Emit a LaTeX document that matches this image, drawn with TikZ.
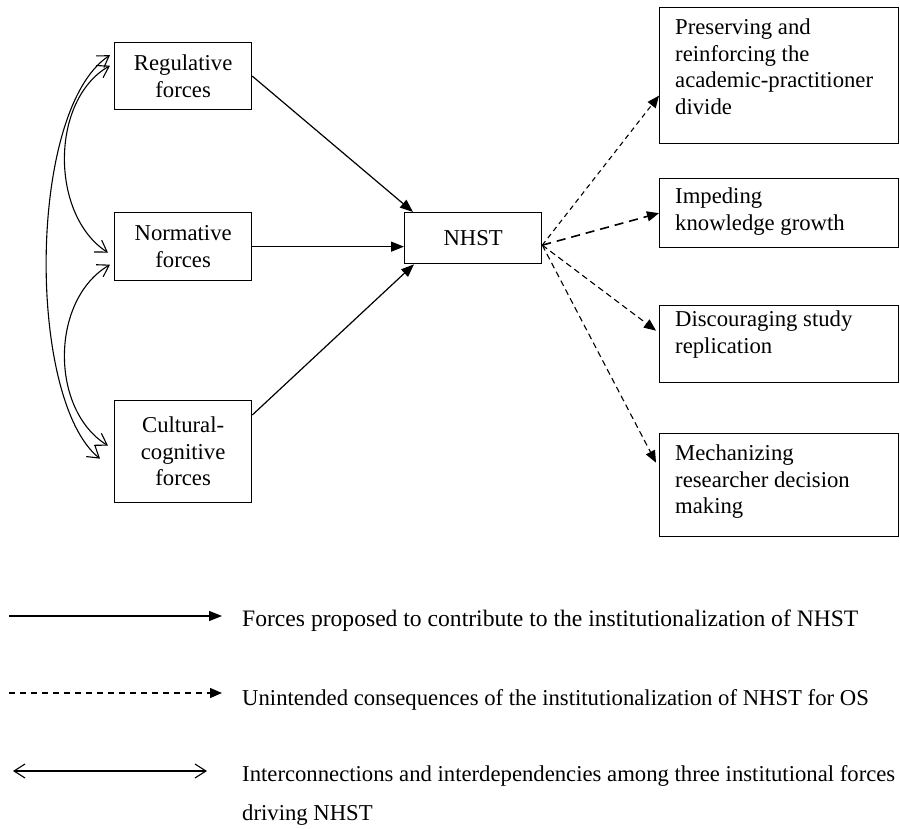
\documentclass[tikz,border=0pt]{standalone}
\usepackage{fontspec}
\setmainfont{Liberation Serif}
\usetikzlibrary{arrows.meta,calc}
\begin{document}
\begin{tikzpicture}[x=1pt,y=-1pt,
  every node/.style={font=\fontsize{22.7}{26.5}\selectfont},
  box/.style={draw,line width=1.3pt,rectangle,inner sep=0pt,anchor=north west,align=center},
  rtext/.style={anchor=north west,align=left,inner sep=0pt},
  ltext/.style={anchor=base west,inner sep=0pt},
  force/.style={line width=1.2pt,-{Triangle[length=13pt,width=10pt]}},
  conseq/.style={line width=1.1pt,dash pattern=on 5pt off 4pt,-{Triangle[length=12pt,width=10pt]}},
  link/.style={line width=1.1pt,{Straight Barb[length=11pt,width=14pt]}-{Straight Barb[length=11pt,width=14pt]}}]
\useasboundingbox (0,0) rectangle (900,829);
% left boxes
\node[box,minimum width=137pt,minimum height=67pt] (reg) at (114,42) {Regulative\\forces};
\node[box,minimum width=137pt,minimum height=68pt] (nor) at (114,212) {Normative\\forces};
\node[box,minimum width=137pt,minimum height=102pt] (cul) at (114,400) {Cultural-\\cognitive\\forces};
% centre
\node[box,minimum width=137pt,minimum height=51pt] (nhst) at (404,212) {NHST};
% right boxes
\node[box,minimum width=239pt,minimum height=136pt] (prs) at (659,7) {};
\node[box,minimum width=239pt,minimum height=69pt] (imp) at (659,178) {};
\node[box,minimum width=239pt,minimum height=77pt] (dis) at (659,305) {};
\node[box,minimum width=239pt,minimum height=103pt] (mec) at (659,433) {};
\node[rtext] (prst) at (675,19) {Preserving and\\reinforcing the\\academic-practitioner\\divide};
\node[rtext] (impt) at (675,188) {Impeding\\knowledge growth};
\node[rtext] (dist) at (675,311) {Discouraging study\\replication};
\node[rtext] (mect) at (675,445) {Mechanizing\\researcher decision\\making};
% forces
\draw[force] (reg.east) -- ([xshift=9pt]nhst.north west);
\draw[force] (nor.east) -- (nor.east -| nhst.west);
\draw[force] ([yshift=-15pt]cul.north east) -- ([xshift=10pt]nhst.south west);
% consequences
\coordinate (o) at ([yshift=-7pt]nhst.east);
\draw[conseq] (o) -- ([yshift=-20pt]prs.west);
\draw[conseq,line width=1.6pt,dash pattern=on 9pt off 6pt] (o) -- (imp.west);
\draw[conseq,dash pattern=on 6pt off 4pt] (o) -- ([xshift=-3pt,yshift=13.5pt]dis.west);
\draw[conseq,dash pattern=on 6pt off 4pt] (o) -- ([xshift=-3pt,yshift=22.5pt]mec.west);
% interconnections
\draw[link] ([xshift=-4pt,yshift=21pt]reg.west) .. controls (27,110) and (27,400) .. ([xshift=-14pt,yshift=-7pt]cul.west);
\draw[link] ([xshift=-4pt,yshift=10.5pt]reg.west) .. controls (50,100) and (50,215) .. ([xshift=-6pt,yshift=-6pt]nor.west);
\draw[link] ([xshift=-4pt,yshift=-18pt]nor.west) .. controls (50,300) and (50,410) .. ([xshift=-6pt,yshift=6pt]cul.west);
% legend
\coordinate (l1a) at (9,616);
\coordinate (l1b) at (222,616);
\coordinate (l2a) at (9,693);
\coordinate (l2b) at (222,693);
\coordinate (l3a) at (13,771);
\coordinate (l3b) at (207,771);
\draw[force] (l1a) -- (l1b);
\draw[conseq,dash pattern=on 6pt off 5pt] (l2a) -- (l2b);
\draw[link] (l3a) -- (l3b);
\node[ltext,font=\fontsize{23.6}{26.5}\selectfont] (t1) at (242,626.5) {Forces proposed to contribute to the institutionalization of NHST};
\node[ltext] (t2) at (242,705) {Unintended consequences of the institutionalization of NHST for OS};
\node[ltext] (t3) at (242,781.5) {Interconnections and interdependencies among three institutional forces};
\node[ltext] (t4) at (242,820) {driving NHST};
\end{tikzpicture}
\end{document}
